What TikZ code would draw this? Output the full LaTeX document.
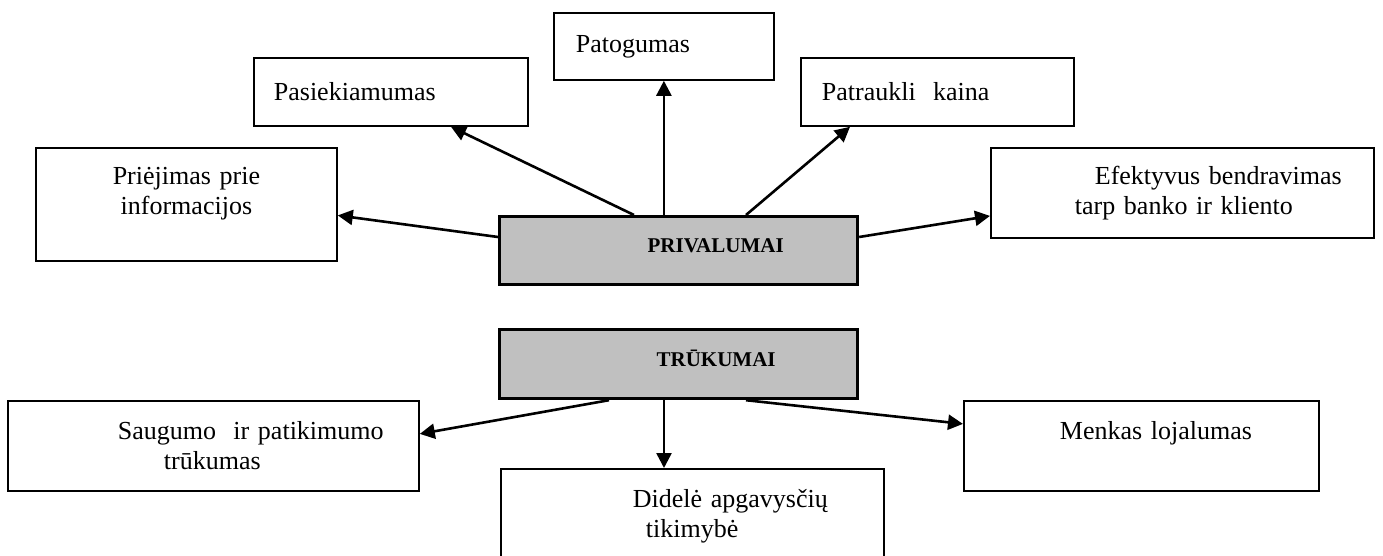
\documentclass[tikz,border=0pt]{standalone}
\usepackage{fontspec}
\setmainfont{Liberation Serif}
\usetikzlibrary{arrows.meta}

\begin{document}
\begin{tikzpicture}
        [x=0.5pt, y=-0.5pt,
          box/.style={draw, line width=0.9pt, anchor=north west, inner xsep=0pt,
            align=left, font=\fontsize{13}{15}\selectfont},
          mainbox/.style={box, line width=1.6pt, fill=boxgray,
            font=\fontsize{10.5}{12}\selectfont\bfseries, text height=7pt, text depth=5pt},
          arr/.style={-{Triangle[length=7.5pt,width=7.5pt]}, line width=1.3pt}]
        \definecolor{boxgray}{HTML}{C0C0C0}
        \useasboundingbox (0,0) rectangle (1383,556);
        % advantages
        \node[mainbox, text width=179pt, minimum height=34pt] (priv) at (498,215) {\hspace*{74pt}PRIVALUMAI};
        \node[box, text width=110pt, minimum height=33.5pt] (pat) at (553,12) {\hspace*{11pt}Patogumas};
        \node[box, text width=137pt, minimum height=34pt] (pas) at (253,57) {\hspace*{10pt}Pasiekiamumas};
        \node[box, text width=136.5pt, minimum height=34pt] (ptk) at (800,57) {\hspace*{10.5pt}Patraukli~ kaina};
        \node[box, text width=150.5pt, minimum height=56.5pt, align=center] (pri) at (35,147) {Priėjimas prie\\informacijos\\[-1.5pt]\mbox{}};
        \node[box, text width=191.5pt, minimum height=45pt] (efk) at (990,147) {\hspace*{52pt}Efektyvus bendravimas\\\hspace*{42pt}tarp banko ir kliento};
        \draw[arr] ([xshift=68pt]priv.north west) -- ([xshift=99pt]pas.south west);
        \draw[arr] (pat.south |- priv.north) -- (pat.south);
        \draw[arr] ([xshift=124pt]priv.north west) -- ([xshift=25pt]ptk.south west);
        \draw[arr] ([yshift=-11pt]priv.north west) -- ([yshift=-5.5pt]pri.east);
        \draw[arr] ([yshift=-11pt]priv.north east) -- ([yshift=-11.5pt]efk.west);
        % disadvantages
        \node[mainbox, text width=179pt, minimum height=34.5pt] (tru) at (498,328) {\hspace*{78.5pt}TRŪKUMAI};
        \node[box, text width=205.5pt, minimum height=45pt] (sau) at (7,400) {\hspace*{55pt}Saugumo~ ir patikimumo\\\hspace*{78pt}trūkumas};
        \node[box, text width=177.5pt, minimum height=45pt] (men) at (963,400) {\hspace*{48pt}Menkas lojalumas\\\mbox{}};
        \node[box, text width=191.5pt, minimum height=47pt] (did) at (500,468) {\hspace*{66pt}Didelė apgavysčių\\\hspace*{72.5pt}tikimybė};
        \draw[arr] ([xshift=55.5pt]tru.south west) -- ([yshift=6pt]sau.east);
        \draw[arr] ([xshift=83pt]tru.south west) -- ([xshift=82pt]did.north west);
        \draw[arr] ([xshift=124pt]tru.south west) -- ([yshift=11pt]men.west);
\end{tikzpicture}
\end{document}
